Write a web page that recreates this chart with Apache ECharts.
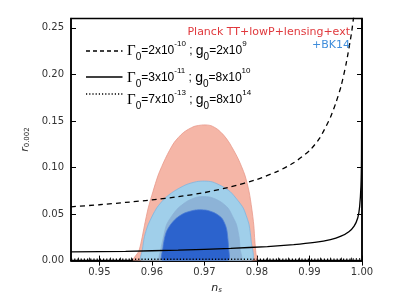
<!DOCTYPE html>
<html>
<head>
<meta charset="utf-8">
<script src="https://cdn.jsdelivr.net/npm/echarts@6/dist/echarts.min.js"></script>
<style>
html,body{margin:0;padding:0;background:#fff;}
#chart{width:402px;height:299px;}
</style>
</head>
<body>
<div id="chart"></div>
<script>
// ---- data ----
const xTicks = [0.95, 0.96, 0.97, 0.98, 0.99, 1.00];
const xMinorTicks = [0.946,0.948,0.952,0.954,0.956,0.958,0.962,0.964,0.966,0.968,0.972,0.974,0.976,0.978,0.982,0.984,0.986,0.988,0.992,0.994,0.996,0.998];
const yTicks = [0.00, 0.05, 0.10, 0.15, 0.20, 0.25];

// Planck TT+lowP+lensing+ext 95% contour (ns, r)
const planck95 = [[0.9565,0],[0.9575,0.010],[0.9580,0.021],[0.9586,0.038],[0.9593,0.0564],[0.9602,0.074],[0.9612,0.0918],[0.9626,0.110],[0.9642,0.1265],[0.9660,0.1375],[0.9680,0.1440],[0.9698,0.1457],[0.9712,0.1450],[0.9725,0.1410],[0.9737,0.1345],[0.9748,0.1260],[0.9764,0.1096],[0.9777,0.0918],[0.9785,0.074],[0.9790,0.0564],[0.9794,0.038],[0.9796,0.021],[0.9798,0.008],[0.9799,0]];
// +BK14 95% contour
const bk95 = [[0.9580,0],[0.9582,0.012],[0.9586,0.026],[0.9593,0.0387],[0.9609,0.0564],[0.9625,0.067],[0.9641,0.0741],[0.9665,0.0815],[0.9685,0.0848],[0.9700,0.0854],[0.9715,0.0845],[0.9733,0.080],[0.9749,0.0741],[0.9763,0.065],[0.9774,0.0564],[0.9781,0.046],[0.9785,0.0387],[0.9789,0.021],[0.9790,0]];
// overlap band
const overlap = [[0.9615,0],[0.9617,0.012],[0.9622,0.025],[0.9628,0.0387],[0.9638,0.048],[0.9650,0.0564],[0.9668,0.064],[0.9685,0.068],[0.9698,0.0688],[0.9712,0.068],[0.9730,0.0635],[0.9745,0.0564],[0.9755,0.046],[0.9761,0.0387],[0.9766,0.025],[0.9768,0.012],[0.9770,0]];
// +BK14 68% contour
const bk68 = [[0.9620,0],[0.9621,0.0138],[0.9624,0.024],[0.9628,0.0316],[0.9636,0.039],[0.9647,0.0457],[0.9662,0.051],[0.9680,0.0540],[0.9691,0.0546],[0.9705,0.054],[0.9720,0.051],[0.9733,0.0457],[0.9740,0.038],[0.9743,0.0316],[0.9746,0.0138],[0.9745,0]];

// model curves (ns, r)
const dashedCurve = [[0.9446,0.0578],[0.950,0.0600],[0.955,0.0625],[0.960,0.0652],[0.965,0.0686],[0.970,0.0730],[0.975,0.0792],[0.980,0.0872],[0.984,0.0960],[0.987,0.1050],[0.990,0.1180],[0.992,0.1320],[0.994,0.1540],[0.995,0.1690],[0.996,0.1870],[0.997,0.2120],[0.998,0.2443],[0.9985,0.2660]];
const solidCurve = [[0.9446,0.0093],[0.955,0.0100],[0.965,0.0112],[0.975,0.0131],[0.982,0.0151],[0.987,0.0171],[0.991,0.0195],[0.994,0.0225],[0.996,0.0262],[0.9975,0.0310],[0.9985,0.0370],[0.9992,0.0460],[0.99955,0.0580],[0.9998,0.0800],[0.9999,0.1100],[1.0,0.2600]];
const dottedCurve = [[0.9446,0.0014],[0.970,0.0014],[0.990,0.0015],[1.0,0.0016]];

const legendLabels = [
  '{G|Γ}{sub|0}{n|=2x10}{sup|-10}{n| ; }{g|g}{sub|0}{n|=2x10}{sup|9}',
  '{G|Γ}{sub|0}{n|=3x10}{sup|-11}{n| ; }{g|g}{sub|0}{n|=8x10}{sup|10}',
  '{G|Γ}{sub|0}{n|=7x10}{sup|-13}{n| ; }{g|g}{sub|0}{n|=8x10}{sup|14}'
];
const datasetLabel1 = 'Planck TT+lowP+lensing+ext';
const datasetLabel2 = '+BK14';

// ---- chart ----
const chart = echarts.init(document.getElementById('chart'), null, {renderer:'canvas'});

function polySeries(name, data, fill, edge, z){
  return {
    type:'custom', name:name, z:z, clip:true, silent:true,
    coordinateSystem:'cartesian2d',
    data:[0],
    renderItem:function(params, api){
      const pts = data.map(p => api.coord(p));
      return {type:'polygon', shape:{points:pts, smooth:0.25},
        style:{fill:fill, stroke:edge, lineWidth:0.8}};
    }
  };
}

const rich = {
  G:{fontFamily:'Liberation Serif', fontSize:15, fill:'#000', lineHeight:22, verticalAlign:'middle'},
  g:{fontFamily:'Liberation Sans', fontSize:14, fill:'#000', lineHeight:22, verticalAlign:'middle'},
  n:{fontFamily:'Liberation Sans', fontSize:12, fill:'#000', lineHeight:22, verticalAlign:'middle'},
  sup:{fontFamily:'Liberation Sans', fontSize:8, fill:'#000', lineHeight:12, verticalAlign:'top'},
  sub:{fontFamily:'Liberation Sans', fontSize:10, fill:'#000', lineHeight:12, verticalAlign:'bottom'}
};

const legendY = [51, 77, 94];
const textY = [51, 78, 100];
const dashes = [[4,3], null, [1.2,2]];
const graphics = [];
for (let i=0;i<3;i++){
  graphics.push({type:'line', shape:{x1:86,y1:legendY[i],x2:122.5,y2:legendY[i]},
    style:{stroke:'#000', lineWidth:1.3, lineDash:dashes[i]}, z:100});
  graphics.push({type:'text', x:127, y:textY[i], z:100,
    style:{text:legendLabels[i], rich:rich, verticalAlign:'middle', align:'left'}});
}
graphics.push({type:'text', x:350, y:32, z:100, style:{text:datasetLabel1, fill:'#e0383c',
  font:'11px "DejaVu Sans"', align:'right', verticalAlign:'middle'}});
graphics.push({type:'text', x:350, y:45, z:100, style:{text:datasetLabel2, fill:'#3f8ddb',
  font:'11px "DejaVu Sans"', align:'right', verticalAlign:'middle'}});

const option = {
  backgroundColor:'#fff',
  animation:false,
  grid:{left:71, top:18.5, width:291, height:244.5, show:true, borderColor:'#000', borderWidth:1.5, backgroundColor:'transparent'},
  xAxis:[{
    type:'value', min:0.9446, max:1.0, position:'bottom',
    name:'{i|n}{s|s}', nameLocation:'middle', nameGap:20,
    nameTextStyle:{rich:{i:{fontFamily:'DejaVu Sans', fontStyle:'italic', fontSize:11, color:'#222'}, s:{fontFamily:'DejaVu Sans', fontStyle:'italic', fontSize:7, color:'#222', padding:[5,0,0,0]}}},
    axisLine:{show:true, lineStyle:{color:'#000', width:1.5}},
    axisTick:{show:true, inside:true, length:5, customValues:xTicks, lineStyle:{color:'#000', width:1}},
    axisLabel:{customValues:xTicks, formatter:v=>v.toFixed(2), margin:7, color:'#333', fontFamily:'DejaVu Sans', fontSize:10},
    splitLine:{show:false}
  },{
    type:'value', min:0.9446, max:1.0, position:'top',
    axisLine:{show:true, lineStyle:{color:'#000', width:1.5}},
    axisTick:{show:true, inside:true, length:5, customValues:xTicks, lineStyle:{color:'#000', width:1}},
    axisLabel:{show:false}, splitLine:{show:false}
  },{
    type:'value', min:0.9446, max:1.0, position:'bottom',
    axisLine:{show:false},
    axisTick:{show:true, inside:true, length:3, customValues:xMinorTicks, lineStyle:{color:'#000', width:0.8}},
    axisLabel:{show:false}, splitLine:{show:false}
  }],
  yAxis:[{
    type:'value', min:0, max:0.26, position:'left',
    name:'{i|r}{s|0.002}', nameLocation:'middle', nameGap:38, nameRotate:90,
    nameTextStyle:{rich:{i:{fontFamily:'DejaVu Sans', fontStyle:'italic', fontSize:11, color:'#222'}, s:{fontFamily:'DejaVu Sans', fontSize:7, color:'#222', padding:[5,0,0,0]}}},
    axisLine:{show:true, lineStyle:{color:'#000', width:1.5}},
    axisTick:{show:true, inside:true, length:5, customValues:yTicks, lineStyle:{color:'#000', width:1}},
    axisLabel:{customValues:yTicks, formatter:v=>v.toFixed(2), margin:7, color:'#333', fontFamily:'DejaVu Sans', fontSize:10},
    splitLine:{show:false}
  },{
    type:'value', min:0, max:0.26, position:'right',
    axisLine:{show:true, lineStyle:{color:'#000', width:1.5}},
    axisTick:{show:true, inside:true, length:5, customValues:yTicks, lineStyle:{color:'#000', width:1}},
    axisLabel:{show:false}, splitLine:{show:false}
  }],
  series:[
    polySeries('Planck 95%', planck95, '#f5b6a7', '#e8998c', 1),
    polySeries('BK14 95%', bk95, '#a0cfea', '#7fb5e0', 2),
    polySeries('overlap', overlap, '#8db3d7', '#8db3d7', 3),
    polySeries('BK14 68%', bk68, '#2c63cd', '#4a7bd6', 4),
    {type:'line', name:'dashed', data:dashedCurve, showSymbol:false, smooth:0.2, z:10,
      lineStyle:{color:'#000', width:1.3, type:[5,4]}},
    {type:'line', name:'solid', data:solidCurve, showSymbol:false, smooth:0.2, z:10,
      lineStyle:{color:'#000', width:1.3}},
    {type:'line', name:'dotted', data:dottedCurve, showSymbol:false, z:10,
      lineStyle:{color:'#000', width:1.5, type:[1.2,2]}}
  ],
  graphic:graphics
};
chart.setOption(option);
</script>
</body>
</html>
